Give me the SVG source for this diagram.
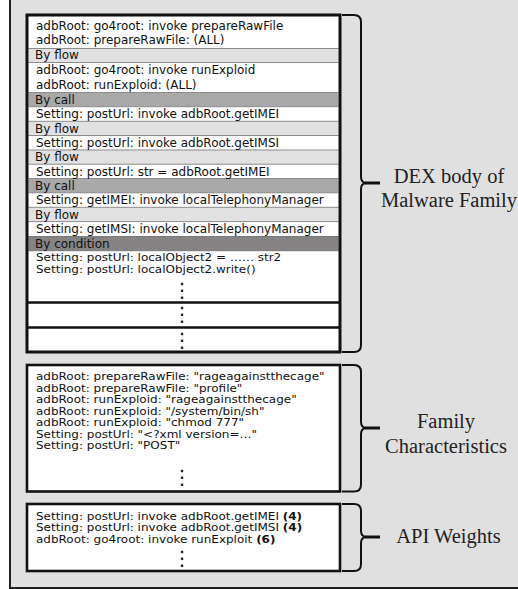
<svg xmlns="http://www.w3.org/2000/svg" width="518" height="589" viewBox="0 0 518 589">
<defs>
<style>
.t{font-family:"DejaVu Sans",Verdana,sans-serif;font-size:12px;fill:#111}
.b{font-weight:bold}
.lbl{font-family:"Liberation Serif","Times New Roman",serif;font-size:20.5px;fill:#222;text-anchor:middle}
.box{fill:#fff;stroke:#111;stroke-width:2.6}
.edge{fill:none;stroke:#111;stroke-width:2.6}
.div{stroke:#111;stroke-width:2.6}
.bl{fill:#e2e1e2;stroke:#8c8c8c;stroke-width:1}
.bc{fill:#a9a8a8;stroke:#8c8c8c;stroke-width:1}
.bd{fill:#858383;stroke:#777;stroke-width:1}
.dots{font-family:"DejaVu Sans",sans-serif;font-size:20px;text-anchor:middle;fill:#111}
.brace{fill:none;stroke:#111;stroke-width:2}
.tip{stroke:#111;stroke-width:3}
</style>
</defs>
<rect x="0" y="0" width="518" height="589" fill="#fff"/>
<g id="frame"><rect x="10" y="-5" width="515" height="593" fill="#e1e0e1" stroke="#222" stroke-width="2"/></g>

<g id="dex-body">
<rect class="box" x="27" y="15" width="313" height="337"/>
<rect class="bl" x="28" y="48.5" width="311" height="14"/>
<rect class="bc" x="28" y="92.5" width="311" height="14.2"/>
<rect class="bl" x="28" y="121.3" width="311" height="14.2"/>
<rect class="bl" x="28" y="150" width="311" height="14.2"/>
<rect class="bc" x="28" y="178.5" width="311" height="14.3"/>
<rect class="bl" x="28" y="207.3" width="311" height="14.3"/>
<rect class="bd" x="28" y="236.5" width="311" height="14.2"/>
<line class="div" x1="27" y1="302.5" x2="340" y2="302.5"/>
<line class="div" x1="27" y1="327.5" x2="340" y2="327.5"/>
<rect class="edge" x="27" y="15" width="313" height="337"/>
<text class="t" x="36" y="29.5">adbRoot: go4root: invoke prepareRawFile</text>
<text class="t" x="36" y="44.3">adbRoot: prepareRawFile: (ALL)</text>
<text class="t" x="35" y="59.3">By flow</text>
<text class="t" x="36" y="74.3">adbRoot: go4root: invoke runExploid</text>
<text class="t" x="36" y="89.3">adbRoot: runExploid: (ALL)</text>
<text class="t" x="35" y="103.5">By call</text>
<text class="t" x="36" y="118">Setting: postUrl: invoke adbRoot.getIMEI</text>
<text class="t" x="35" y="132.5">By flow</text>
<text class="t" x="36" y="146.8">Setting: postUrl: invoke adbRoot.getIMSI</text>
<text class="t" x="35" y="161.2">By flow</text>
<text class="t" x="36" y="175.6">Setting: postUrl: str = adbRoot.getIMEI</text>
<text class="t" x="35" y="190">By call</text>
<text class="t" x="36" y="204.4">Setting: getIMEI: invoke localTelephonyManager</text>
<text class="t" x="35" y="218.8">By flow</text>
<text class="t" x="36" y="233.2">Setting: getIMSI: invoke localTelephonyManager</text>
<text class="t" x="35" y="247.6">By condition</text>
<text class="t" transform="translate(36 260.5) scale(1 .88)">Setting: postUrl: localObject2 = …… str2</text>
<text class="t" transform="translate(36 273) scale(1 .88)">Setting: postUrl: localObject2.write()</text>
<text class="dots" x="182" y="297">⋮</text>
<text class="dots" x="182" y="321">⋮</text>
<text class="dots" x="182" y="347">⋮</text>
</g>

<g id="family">
<rect class="box" x="27" y="365" width="313" height="126.5"/>
<text class="t" transform="translate(36 380) scale(1 .82)">adbRoot: prepareRawFile: "rageagainstthecage"</text>
<text class="t" transform="translate(36 391.5) scale(1 .82)">adbRoot: prepareRawFile: "profile"</text>
<text class="t" transform="translate(36 403) scale(1 .82)">adbRoot: runExploid: "rageagainstthecage"</text>
<text class="t" transform="translate(36 414.5) scale(1 .82)">adbRoot: runExploid: "/system/bin/sh"</text>
<text class="t" transform="translate(36 426) scale(1 .82)">adbRoot: runExploid: "chmod 777"</text>
<text class="t" transform="translate(36 437.5) scale(1 .82)">Setting: postUrl: "&lt;?xml version=…"</text>
<text class="t" transform="translate(36 449) scale(1 .82)">Setting: postUrl: "POST"</text>
<text class="dots" x="182" y="484">⋮</text>
</g>

<g id="api">
<rect class="box" x="27" y="504" width="313" height="67"/>
<text class="t" transform="translate(36 519.5) scale(1 .82)">Setting: postUrl: invoke adbRoot.getIMEI <tspan class="b">(4)</tspan></text>
<text class="t" transform="translate(36 531) scale(1 .82)">Setting: postUrl: invoke adbRoot.getIMSI <tspan class="b">(4)</tspan></text>
<text class="t" transform="translate(36 542.5) scale(1 .82)">adbRoot: go4root: invoke runExploit <tspan class="b">(6)</tspan></text>
<text class="dots" x="182" y="565">⋮</text>
</g>

<g id="connectors">
<path class="brace" d="M342,15 L354,15 Q361,15 361,22 L361,177 Q361,183 367,183 Q361,183 361,189 L361,345 Q361,352 354,352 L342,352"/>
<line class="tip" x1="365" y1="183" x2="380" y2="183"/>
<path class="brace" d="M342,365 L354,365 Q361,365 361,372 L361,422 Q361,428 367,428 Q361,428 361,434 L361,484.5 Q361,491.5 354,491.5 L342,491.5"/>
<line class="tip" x1="365" y1="428" x2="380" y2="428"/>
<path class="brace" d="M342,504 L354,504 Q361,504 361,511 L361,531 Q361,537 367,537 Q361,537 361,543 L361,564 Q361,571 354,571 L342,571"/>
<line class="tip" x1="365" y1="537" x2="380" y2="537"/>
</g>

<g id="labels">
<text class="lbl" x="449" y="183">DEX body of</text>
<text class="lbl" x="449" y="207">Malware Family</text>
<text class="lbl" x="446" y="428">Family</text>
<text class="lbl" x="446" y="452.5">Characteristics</text>
<text class="lbl" x="448.5" y="543">API Weights</text>
</g>
</svg>
